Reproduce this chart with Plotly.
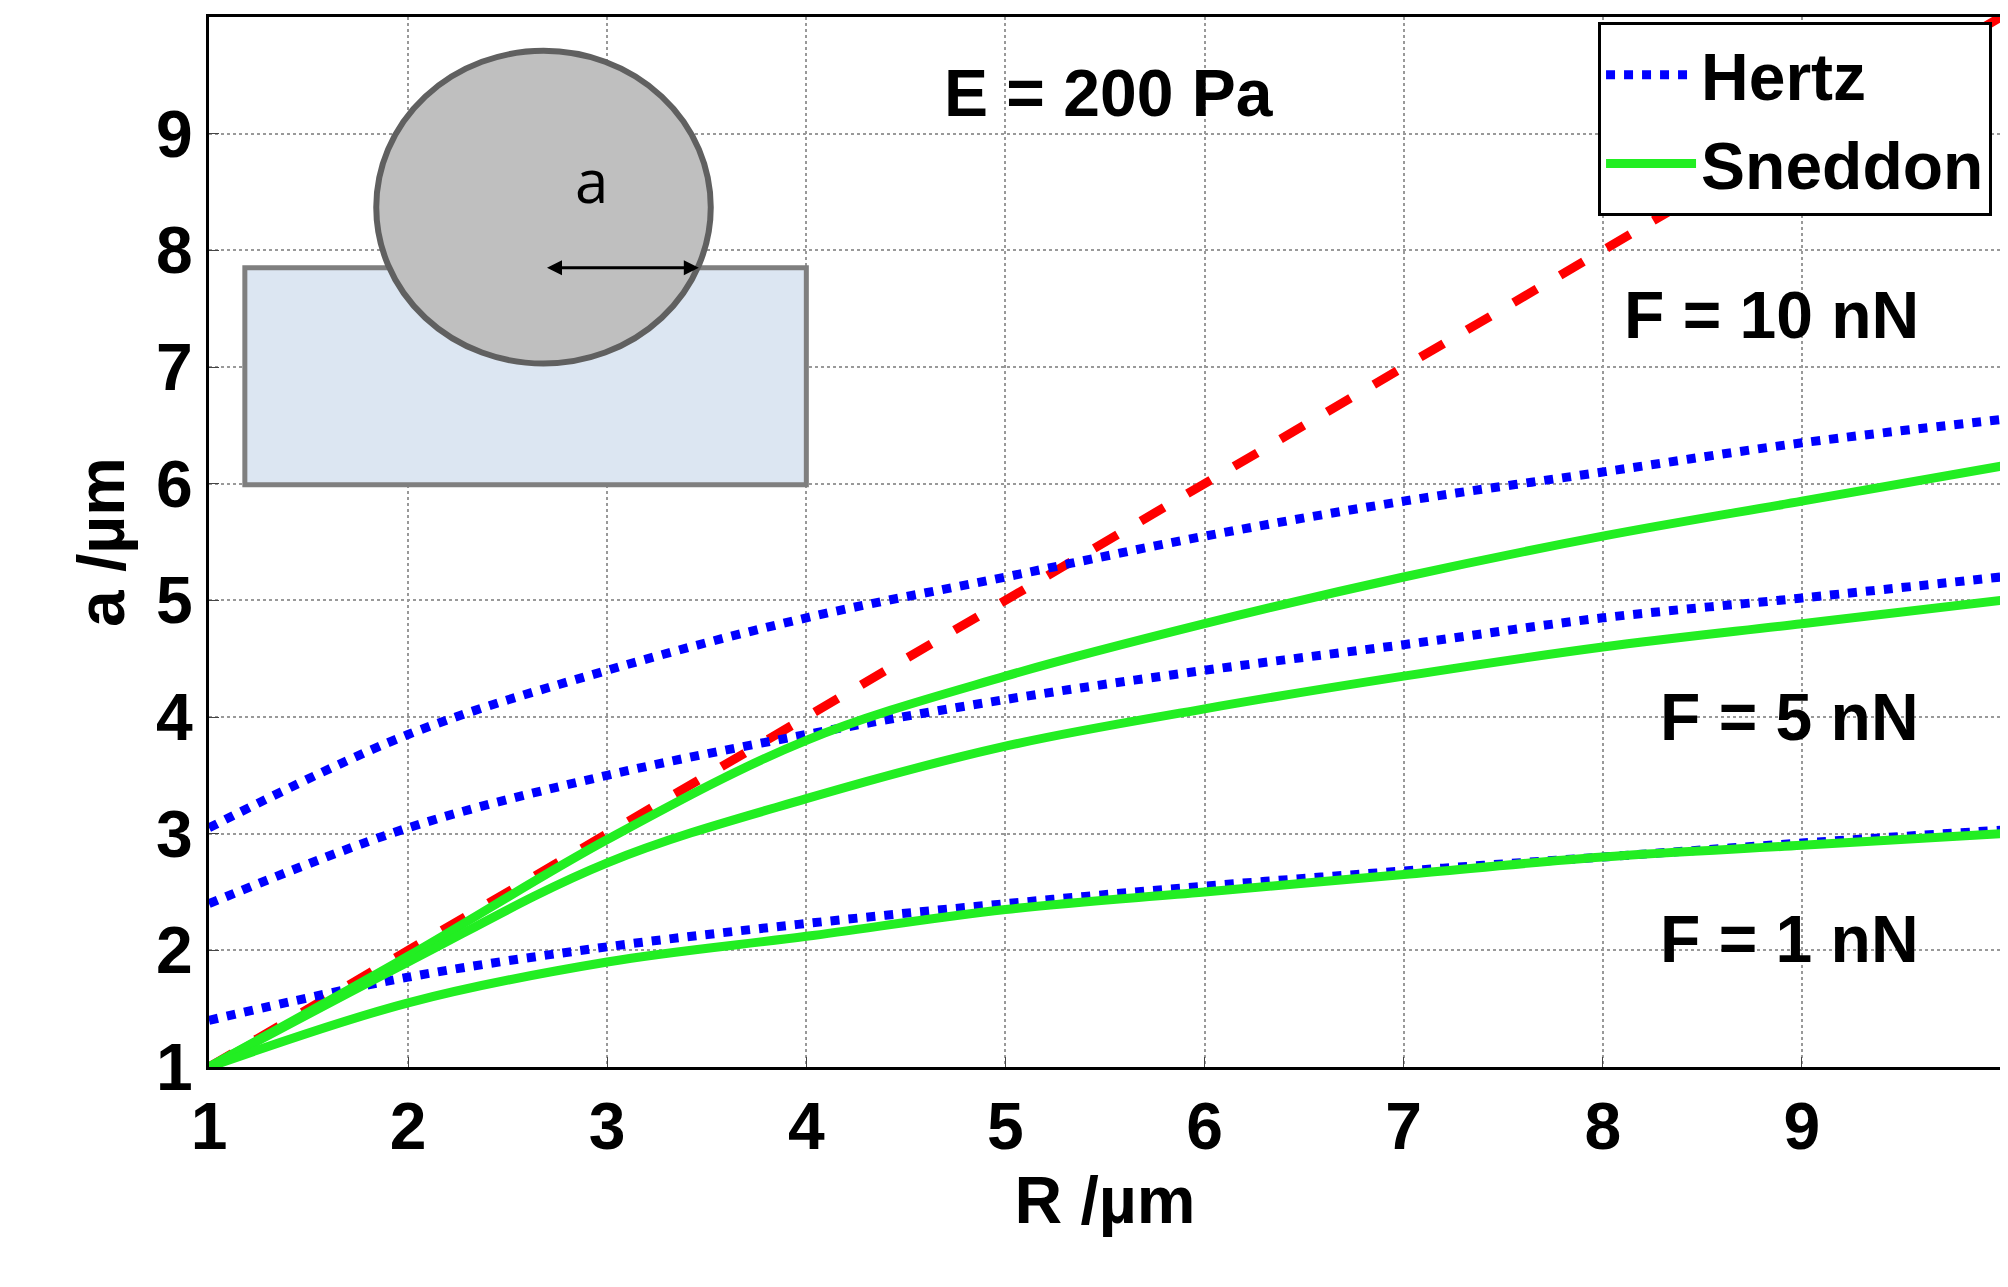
import plotly.graph_objects as go

R = [1, 2, 3, 4, 5, 6, 7, 8, 9, 10]

hertz_10 = [3.05, 3.85, 4.4, 4.85, 5.2, 5.55, 5.85, 6.1, 6.35, 6.55]
hertz_5 = [2.4, 3.05, 3.5, 3.85, 4.15, 4.4, 4.62, 4.85, 5.02, 5.2]
hertz_1 = [1.4, 1.77, 2.03, 2.23, 2.4, 2.55, 2.68, 2.8, 2.92, 3.03]

sned_10 = [1.0, 1.95, 2.95, 3.8, 4.35, 4.8, 5.2, 5.55, 5.85, 6.15]
sned_5 = [1.0, 1.9, 2.75, 3.3, 3.75, 4.07, 4.35, 4.6, 4.8, 5.0]
sned_1 = [1.0, 1.55, 1.9, 2.12, 2.35, 2.5, 2.65, 2.8, 2.9, 3.0]

limit_R = [1, 10]
limit_a = [1, 10]

force_labels = ["F = 10 nN", "F = 5 nN", "F = 1 nN"]
force_label_y = [7.45, 4.0, 2.1]

font = dict(family="Liberation Sans, Arial", color="black", weight="bold")
fig = go.Figure()

fig.add_trace(go.Scatter(x=limit_R, y=limit_a, mode="lines", showlegend=False,
                         line=dict(color="red", width=9, dash="dash")))
for i, ys in enumerate([hertz_10, hertz_5, hertz_1]):
    fig.add_trace(go.Scatter(x=R, y=ys, mode="lines", name="Hertz", showlegend=(i == 0),
                             line=dict(color="blue", width=9, dash="dot", shape="spline")))
for i, ys in enumerate([sned_10, sned_5, sned_1]):
    fig.add_trace(go.Scatter(x=R, y=ys, mode="lines", name="Sneddon", showlegend=(i == 0),
                             line=dict(color="#22ee22", width=9, shape="spline")))

for txt, y in zip(force_labels, force_label_y):
    fig.add_annotation(x=9.6, y=y, text="<b>%s</b>" % txt, showarrow=False,
                       xanchor="right", font=dict(size=66, **font))
fig.add_annotation(x=10, y=7.45, text="", showarrow=False)
fig.add_annotation(x=5.52, y=9.35, text="<b>E = 200 Pa</b>", showarrow=False,
                   font=dict(size=66, **font))

# inset sketch
fig.add_shape(type="rect", x0=1.18, x1=4.0, y0=5.99, y1=7.85,
              fillcolor="#dce6f2", line=dict(color="#7f7f7f", width=5), layer="above")
fig.add_shape(type="circle", x0=1.84, x1=3.52, y0=7.03, y1=9.71,
              fillcolor="#bfbfbf", line=dict(color="#606060", width=6), layer="above")
fig.add_annotation(x=3.46, y=7.85, ax=2.69, ay=7.85, axref="x", ayref="y",
                   showarrow=True, arrowhead=2, arrowside="end+start", arrowwidth=3,
                   arrowsize=1, arrowcolor="black", text="")
fig.add_annotation(x=2.92, y=8.6, text="a", showarrow=False,
                   font=dict(size=60, family="Open Sans", color="black"))

axis = dict(range=[1, 10], tickvals=[1, 2, 3, 4, 5, 6, 7, 8, 9],
            tickfont=dict(size=66, **font), showgrid=True, gridcolor="#999999",
            griddash="dot", gridwidth=2, showline=True, linecolor="black",
            linewidth=3, mirror=True, ticks="inside", ticklen=10, zeroline=False)
fig.update_xaxes(**axis, title=dict(text="<b>R /µm</b>", font=dict(size=66, **font), standoff=5))
fig.update_yaxes(**axis, title=dict(text="<b>a /µm</b>", font=dict(size=66, **font), standoff=10))

fig.update_layout(
    width=2008, height=1287, plot_bgcolor="white", paper_bgcolor="white",
    margin=dict(l=201, r=15, t=6, b=228),
    legend=dict(x=0.995, y=0.995, xanchor="right", yanchor="top", bgcolor="white",
                bordercolor="black", borderwidth=3, font=dict(size=66, **font),
                itemwidth=90, tracegroupgap=0),
)
fig.write_html("out.html")
